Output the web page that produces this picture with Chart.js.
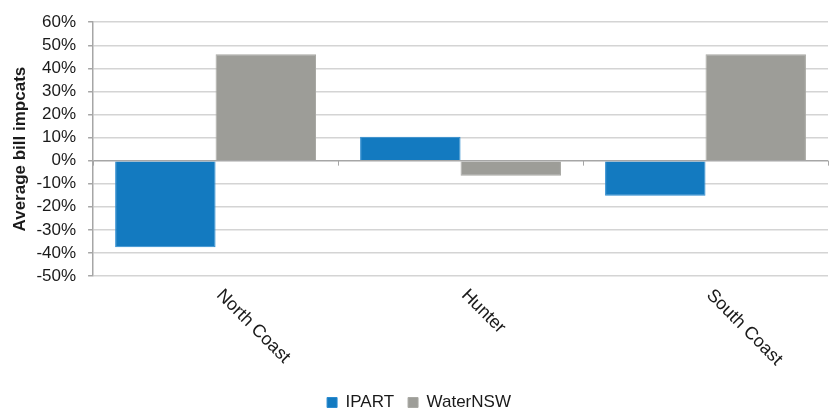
<!DOCTYPE html>
<html>
<head>
<meta charset="utf-8">
<script src="https://cdn.jsdelivr.net/npm/chart.js@4"></script>
<style>
    html, body { margin: 0; padding: 0; background: #fff; }
    #wrap { width: 831px; height: 414px; }
</style>
</head>
<body>
<div id="wrap"><canvas id="barChart" width="831" height="414"></canvas></div>
<script>
const regions = ["North Coast", "Hunter", "South Coast"];
const ipart = [-37.5, 10.4, -15.2];
const waterNSW = [46.1, -6.5, 46.1];
const yTicks = [-50, -40, -30, -20, -10, 0, 10, 20, 30, 40, 50, 60];

const FONT = "'Liberation Sans', Arial, sans-serif";

// draws the slanted region names and the little ticks on the zero line
const categoryLabels = {
    id: "categoryLabels",
    afterDatasetsDraw(chart) {
        const ctx = chart.ctx;
        const x = chart.scales.x;
        const y = chart.scales.y;
        const zero = y.getPixelForValue(0);
        const half = (x.getPixelForValue(1) - x.getPixelForValue(0)) / 2;

        ctx.save();
        ctx.strokeStyle = "#a6a6a6";
        ctx.lineWidth = 1;
        for (let i = 0; i <= regions.length; i++) {
            const px = Math.round(x.getPixelForValue(i) - half) + 0.5;
            ctx.beginPath();
            ctx.moveTo(px, zero);
            ctx.lineTo(px, zero + 5);
            ctx.stroke();
        }

        ctx.fillStyle = "#1a1a1a";
        ctx.font = "18px " + FONT;
        ctx.textAlign = "left";
        ctx.textBaseline = "top";
        regions.forEach((name, i) => {
            ctx.save();
            ctx.translate(x.getPixelForValue(i) + 10, chart.chartArea.bottom + 10);
            ctx.rotate(Math.PI / 4);
            ctx.fillText(name, 0, 0);
            ctx.restore();
        });
        ctx.restore();
    },
};

const ctx = document.getElementById("barChart").getContext("2d");

const barChart = new Chart(ctx, {
    type: "bar",
    data: {
        labels: regions,
        datasets: [
            {
                label: "IPART",
                data: ipart,
                backgroundColor: "#137ac0",
                borderColor: "#2b8bd0",
                borderWidth: 1,
            },
            {
                label: "WaterNSW",
                data: waterNSW,
                backgroundColor: "#9d9d98",
                borderColor: "#a9a9a4",
                borderWidth: 1,
            },
        ],
    },
    options: {
        responsive: false,
        animation: false,
        layout: { padding: { top: 11, right: 3, left: 10, bottom: -7 } },
        datasets: {
            bar: { categoryPercentage: 0.82, barPercentage: 1.0 },
        },
        scales: {
            x: {
                grid: { display: false },
                border: { display: false },
                ticks: { display: false },
                afterFit: function (scale) {
                    scale.height = 104;
                },
            },
            y: {
                min: -50,
                max: 60,
                afterBuildTicks: function (scale) {
                    scale.ticks = yTicks.map((v) => ({ value: v }));
                },
                grid: {
                    color: (c) => (c.tick && c.tick.value === 0 ? "#a6a6a6" : "#d4d4d4"),
                    lineWidth: 1.5,
                    tickLength: 5,
                    tickColor: "#a6a6a6",
                },
                border: { color: "#a6a6a6", width: 1.5 },
                ticks: {
                    autoSkip: false,
                    color: "#1a1a1a",
                    font: { family: FONT, size: 17 },
                    padding: 12,
                    callback: function (value) {
                        return value + "%";
                    },
                },
                title: {
                    display: true,
                    text: "Average bill impcats",
                    color: "#1a1a1a",
                    font: { family: FONT, size: 17, weight: "bold" },
                    padding: { top: 0, bottom: -6 },
                },
            },
        },
        plugins: {
            legend: {
                position: "bottom",
                labels: {
                    color: "#1a1a1a",
                    font: { family: FONT, size: 17 },
                    boxWidth: 10,
                    boxHeight: 10,
                    padding: 14,
                },
            },
            tooltip: { enabled: false },
        },
    },
    plugins: [categoryLabels],
});
</script>
</body>
</html>
